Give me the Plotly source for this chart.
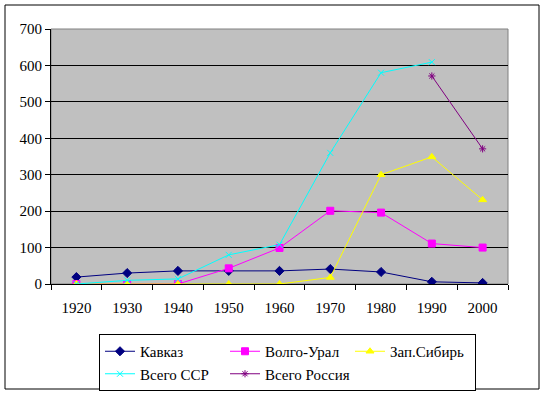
import plotly.graph_objects as go

years = [1920, 1930, 1940, 1950, 1960, 1970, 1980, 1990, 2000]
kavkaz = [19, 30, 36, 36, 36, 41, 33, 6, 3]
volgo_ural = [0, 0, 0, 43, 99, 201, 196, 111, 100]
zap_sibir = [0, 0, 0, 0, 0, 18, 300, 349, 231]
vsego_ssr = [0, 10, 14, 80, 108, 360, 580, 609, None]
vsego_rossia = [None, None, None, None, None, None, None, 571, 371]
y_ticks = [0, 100, 200, 300, 400, 500, 600, 700]

W, H = 544, 394
L, R, T, B = 51, 36, 29, 110
pw, ph = W - L - R, H - T - B

font = dict(family="serif", size=15, color="black")

fig = go.Figure()
series = [
    ("Кавказ", kavkaz, "#000080", "diamond", 7),
    ("Волго-Урал", volgo_ural, "#FF00FF", "square", 7),
    ("Зап.Сибирь", zap_sibir, "#FFFF00", "triangle-up", 7),
    ("Всего ССР", vsego_ssr, "#00FFFF", "x-thin-open", 6),
    ("Всего Россия", vsego_rossia, "#800080", "asterisk-open", 6),
]
for name, vals, color, sym, sz in series:
    fig.add_trace(go.Scatter(
        x=years, y=vals, name=name, mode="lines+markers",
        line=dict(color=color, width=1),
        marker=dict(symbol=sym, size=sz, color=color, line=dict(color=color, width=1)),
        connectgaps=False,
    ))

def px_x(p):
    return (p - L) / pw

def px_y(p):
    return (H - B - p) / ph

fig.update_layout(
    width=W, height=H,
    margin=dict(l=L, r=R, t=T, b=B, autoexpand=False),
    paper_bgcolor="white",
    plot_bgcolor="#C0C0C0",
    font=font,
    showlegend=True,
    legend=dict(
        orientation="h",
        x=px_x(99), y=px_y(334), xanchor="left", yanchor="top",
        entrywidth=80, entrywidthmode="pixels",
        bordercolor="black", borderwidth=1, bgcolor="white",
        font=font, tracegroupgap=0,
    ),
    xaxis=dict(
        range=[1915, 2005], tickvals=years, ticktext=[str(y) for y in years],
        ticks="", showgrid=False, zeroline=False,
        showline=True, linecolor="black", linewidth=1,
        tickfont=font, ticklabelstandoff=10,
        minor=dict(tickvals=list(range(1915, 2006, 10)), ticks="outside",
                   ticklen=5, tickcolor="black", showgrid=False),
        fixedrange=True,
    ),
    yaxis=dict(
        range=[0, 700], tickvals=y_ticks, ticks="outside", ticklen=5,
        tickcolor="black", showgrid=True, gridcolor="black", gridwidth=1,
        zeroline=False, showline=True, linecolor="black", linewidth=1,
        tickfont=font, fixedrange=True,
    ),
    shapes=[
        dict(type="rect", xref="paper", yref="paper",
             x0=px_x(5), x1=px_x(539), y0=px_y(389), y1=px_y(5),
             line=dict(color="black", width=1), fillcolor="rgba(0,0,0,0)", layer="below"),
        dict(type="rect", xref="paper", yref="paper", x0=0, x1=1, y0=0, y1=1,
             line=dict(color="#808080", width=1), fillcolor="rgba(0,0,0,0)", layer="below"),
    ],
)

fig.write_html("out.html", config={"displayModeBar": False},
               post_script="document.body.style.margin='0';")
